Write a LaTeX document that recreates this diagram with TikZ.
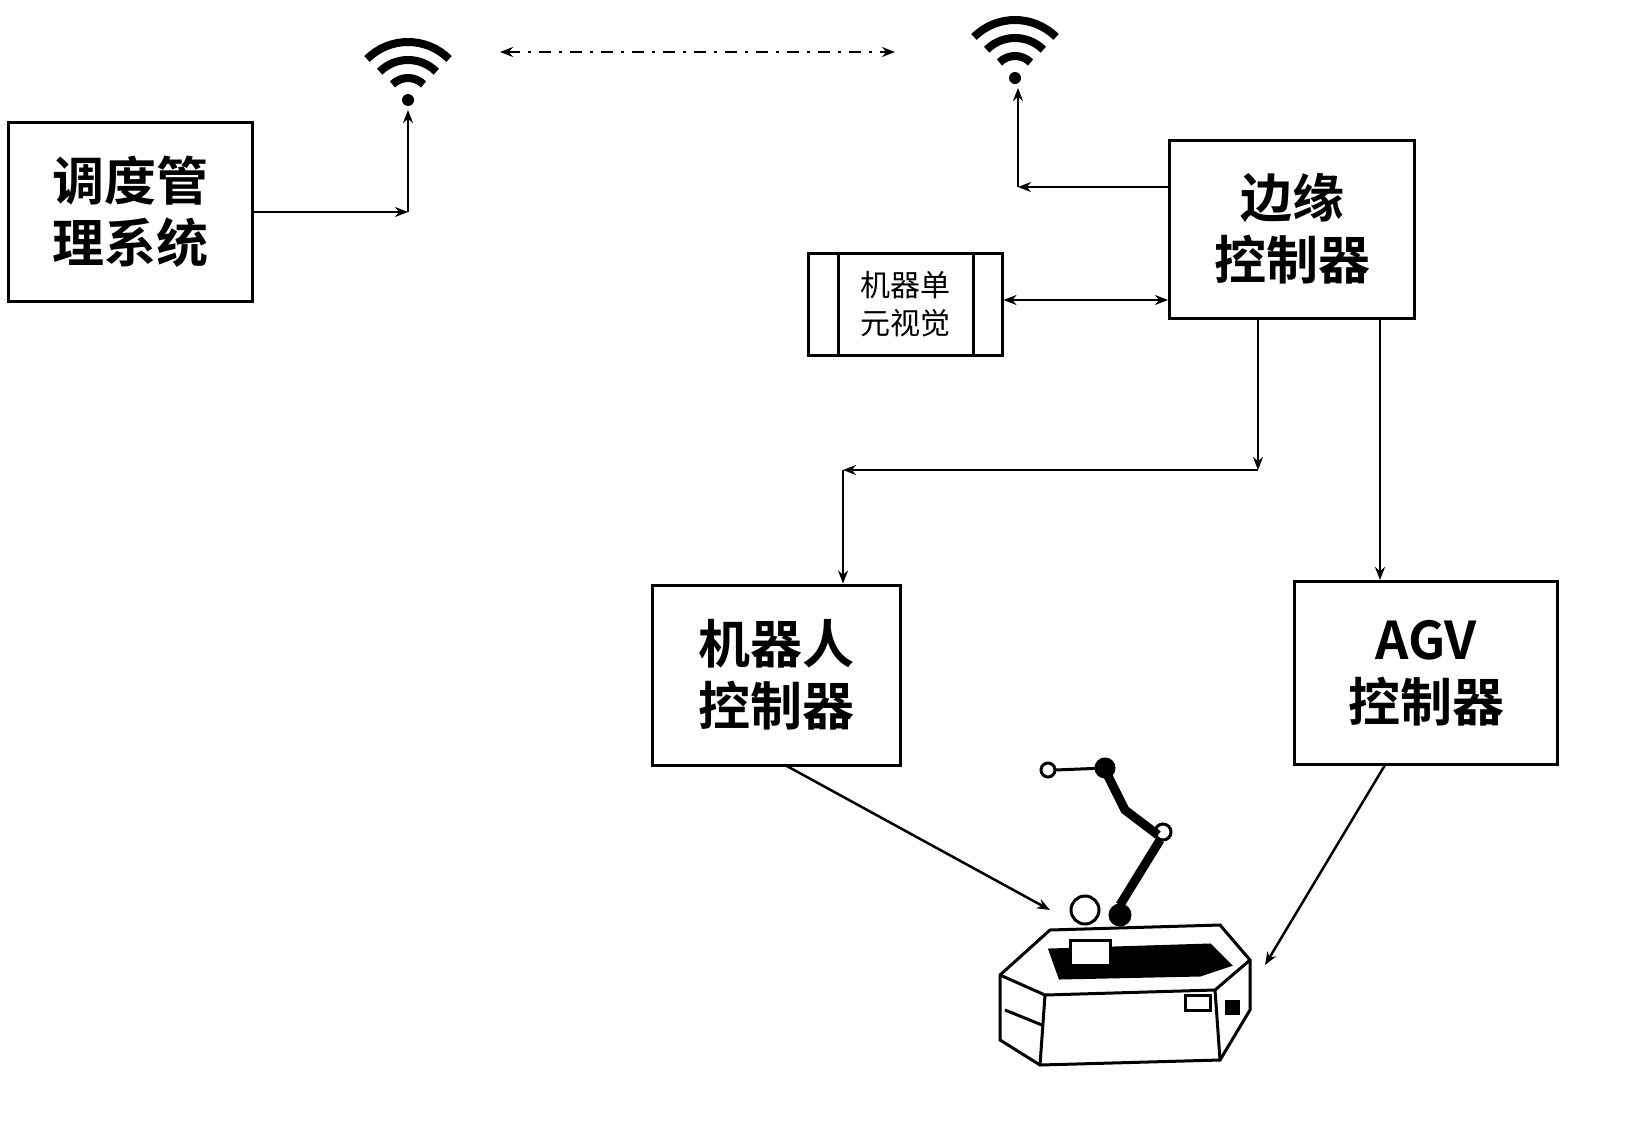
\documentclass[tikz,border=0pt]{standalone}
\usepackage{fontspec}
\newfontfamily\cjk{Noto Sans CJK SC}[BoldFont={Noto Sans CJK SC Bold}]
\usetikzlibrary{arrows.meta}
\begin{document}
\begin{tikzpicture}[x=1pt,y=-1pt,
  box/.style={draw,line width=3pt,font=\cjk\bfseries\fontsize{52}{62}\selectfont,align=center,inner sep=0pt},
  conn/.style={line width=2.5pt,-{Stealth[length=13pt,width=10pt]}},
  wifi/.style={line width=8pt}]
\useasboundingbox (0,0) rectangle (1638,1130);
\node[box,minimum width=244pt,minimum height=179pt] (ds) at (130,212) {调度管\\理系统};
\node[box,minimum width=245pt,minimum height=178pt] (ec) at (1292,229) {边缘\\控制器};
\node[box,minimum width=248pt,minimum height=180pt] (rc) at (776,675) {机器人\\控制器};
\node[box,minimum width=263pt,minimum height=183pt] (ac) at (1426,673) {AGV\\控制器};
\node[draw,line width=3pt,minimum width=194pt,minimum height=102pt,font=\cjk\fontsize{30}{38}\selectfont,align=center,inner sep=0pt] (mv) at (905,304) {机器单\\元视觉};
\draw[line width=3pt] (838,253)--(838,355) (973,253)--(973,355);
% wifi
\foreach \cx/\cy [count=\i] in {408/100, 1015/78}{
  \coordinate (w\i) at (\cx,\cy);
  \fill (\cx,\cy) circle (6pt);
  \foreach \r in {22,40,58}
    \draw[wifi] ([shift={(-45:\r)}]\cx,\cy) arc[start angle=-45,end angle=-135,radius=\r];
}
\coordinate (a1) at (408,212);
\draw[conn] (ds.east |- a1) -- (a1);
\draw[conn] (a1) -- (408,110);
\coordinate (a2) at (1018,187);
\draw[conn] (ec.west |- a2) -- (a2);
\draw[conn] (a2) -- (1018,88);
\draw[line width=2.5pt,{Stealth[length=13pt,width=10pt]}-{Stealth[length=13pt,width=10pt]}] (mv.east |- 0,300) -- (ec.west |- 0,300);
\draw[line width=2.5pt,dash pattern=on 12pt off 8pt on 3pt off 8pt,{Stealth[length=13pt,width=10pt]}-{Stealth[length=13pt,width=10pt]}] (500,52) -- (895,52);
\coordinate (b1) at (1258,470);
\coordinate (b2) at (843,470);
\draw[conn] (ec.south -| b1) -- (b1);
\draw[conn] (b1) -- (b2);
\draw[conn] (b2) -- (rc.north -| b2);
\draw[conn] (ec.south -| 1380,0) -- (ac.north -| 1380,0);
% robot
\coordinate (rt) at (1050,910);
\coordinate (at) at (1265,965);
\draw[conn] (785,765) -- (rt);
\draw[conn] (1385,765) -- (at);
\begin{scope}[line width=3pt]
 \draw[fill=white] (1000,975) -- (1050,930) -- (1220,925) -- (1250,960) -- (1250,1010) -- (1220,1060) -- (1040,1065) -- (1000,1040) -- cycle;
 \draw (1000,975) -- (1045,995) -- (1215,990) -- (1250,960);
 \draw (1045,995) -- (1040,1065);
 \draw (1215,990) -- (1220,1060);
 \draw (1005,1010) -- (1042,1025);
 \draw[fill=black] (1050,950) -- (1210,945) -- (1230,965) -- (1200,975) -- (1060,978) -- cycle;
 \draw[fill=white] (1070,940) rectangle (1110,965);
 \draw[fill=white] (1185,995) rectangle (1210,1010);
 \fill (1225,1000) rectangle (1240,1015);
 \draw[fill=white] (1085,910) circle (14pt);
 \draw[fill=black] (1120,915) circle (10pt);
 \draw[line width=9pt] (1120,905) -- (1160,840);
 \draw[fill=white] (1163,832) circle (8pt);
 \draw[line width=9pt] (1158,835) -- (1125,810) -- (1105,770);
 \draw[fill=black] (1105,768) circle (9pt);
 \draw (1105,768) -- (1055,770);
 \draw[fill=white] (1048,770) circle (7pt);
\end{scope}
\end{tikzpicture}
\end{document}
